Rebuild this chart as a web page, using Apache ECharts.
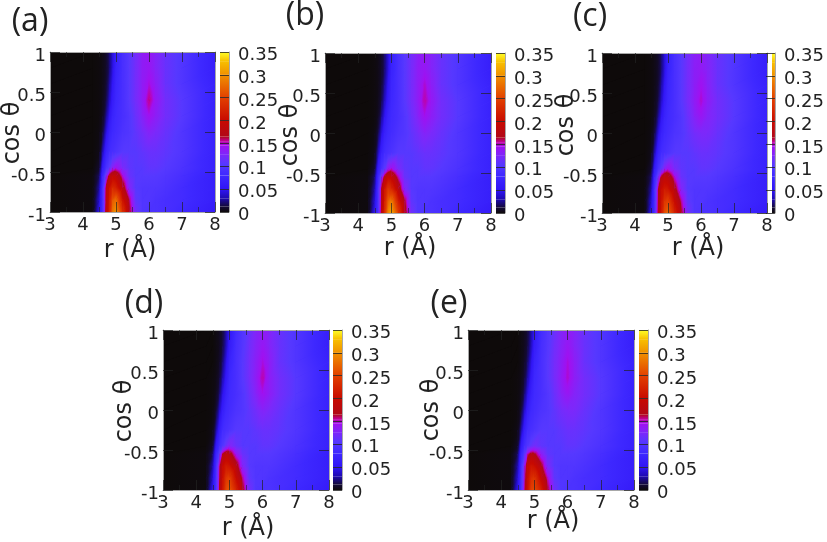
<!DOCTYPE html>
<html><head><meta charset="utf-8">
<style>html,body{margin:0;padding:0;background:#fff}#c{width:827px;height:542px}</style>
<script src="https://cdn.jsdelivr.net/npm/echarts@6/dist/echarts.min.js"></script>
</head><body><div id="c"></div>
<script>
const rValues = [3,4.3,4.5,4.6,4.7,4.8,4.9,5,5.2,5.4,5.6,5.8,6,6.2,6.5,7,8];
const cosValues = [1,.8,.6,.4,.2,0,-.25,-.45,-.55,-.7,-.85,-1];
const xTicks = {min:3,max:8,interval:1};
const yTicks = {min:-1,max:1,interval:.5};
const barTicks = {min:0,max:.35,interval:.05};
const paletteValues = [0,.012,.03,.05,.08,.105,.125,.145,.155,.165,.2,.25,.3,.33,.35];
const paletteColors = ['#0e0a0a','#140a38','#1e0ab0','#3015f5','#3e28ff','#5638ff','#7c28fa','#a010f0','#c000a0','#b00818','#c80a00','#e24000','#f09000','#f8c000','#ffff28'];

const panelA = [
[0,0,.001,.003,.008,.02,.04,.065,.09,.105,.12,.135,.14,.13,.115,.1,.065],
[0,0,.001,.003,.008,.02,.042,.07,.09,.105,.12,.135,.14,.13,.115,.1,.065],
[0,0,.001,.003,.01,.027,.052,.075,.09,.105,.12,.135,.148,.135,.115,.1,.07],
[0,0,.001,.004,.014,.035,.06,.078,.09,.105,.12,.135,.158,.14,.12,.105,.07],
[0,0,.001,.006,.024,.05,.072,.082,.09,.1,.115,.13,.145,.135,.12,.105,.07],
[0,0,.002,.012,.04,.068,.08,.085,.095,.1,.11,.12,.13,.125,.115,.1,.07],
[0,0,.004,.032,.068,.085,.09,.095,.105,.105,.105,.11,.115,.115,.11,.1,.07],
[0,0,.01,.06,.09,.108,.135,.145,.125,.11,.105,.105,.11,.11,.105,.095,.07],
[0,.001,.02,.075,.125,.178,.192,.188,.15,.115,.105,.105,.105,.105,.1,.09,.065],
[0,.001,.03,.09,.172,.205,.23,.22,.18,.13,.105,.1,.1,.1,.095,.085,.065],
[0,.001,.04,.09,.175,.215,.265,.28,.21,.162,.11,.1,.1,.095,.09,.085,.065],
[0,.001,.05,.09,.18,.22,.285,.305,.24,.172,.12,.1,.095,.095,.09,.08,.06]];
const panelB = [
[0,0,.001,.003,.008,.02,.04,.065,.09,.105,.12,.133,.138,.13,.115,.1,.065],
[0,0,.001,.003,.008,.02,.042,.07,.09,.105,.12,.135,.14,.13,.115,.1,.065],
[0,0,.001,.003,.01,.027,.052,.075,.09,.105,.12,.135,.15,.135,.115,.1,.07],
[0,0,.001,.004,.014,.035,.06,.078,.09,.105,.12,.135,.155,.14,.12,.105,.07],
[0,0,.001,.006,.024,.05,.072,.082,.09,.1,.115,.13,.145,.135,.12,.105,.07],
[0,0,.002,.014,.04,.068,.08,.085,.095,.1,.11,.12,.13,.125,.115,.1,.07],
[0,0,.004,.032,.068,.085,.09,.095,.105,.105,.105,.11,.115,.115,.11,.1,.07],
[0,0,.01,.06,.09,.108,.14,.15,.125,.11,.105,.105,.11,.11,.105,.095,.07],
[0,.001,.02,.075,.125,.178,.198,.193,.155,.115,.105,.105,.105,.105,.1,.09,.065],
[0,.001,.03,.09,.165,.21,.24,.23,.185,.13,.105,.1,.1,.1,.095,.085,.065],
[0,.001,.04,.09,.17,.22,.27,.29,.22,.167,.11,.1,.1,.095,.09,.085,.065],
[0,.001,.05,.09,.175,.23,.295,.318,.25,.178,.12,.1,.095,.095,.09,.08,.06]];
const panelC = [
[0,0,.001,.003,.008,.02,.04,.065,.09,.105,.12,.132,.136,.128,.115,.1,.065],
[0,0,.001,.003,.008,.02,.042,.07,.09,.105,.12,.133,.137,.13,.115,.1,.065],
[0,0,.001,.003,.01,.027,.052,.075,.09,.105,.12,.133,.145,.132,.115,.1,.07],
[0,0,.001,.004,.014,.035,.06,.078,.09,.105,.12,.135,.15,.135,.12,.105,.07],
[0,0,.001,.006,.024,.05,.072,.082,.09,.1,.115,.13,.14,.13,.12,.105,.07],
[0,0,.002,.014,.04,.068,.08,.085,.095,.1,.11,.12,.125,.125,.115,.1,.07],
[0,0,.004,.032,.068,.085,.09,.095,.105,.105,.105,.11,.115,.115,.11,.1,.07],
[0,0,.01,.06,.09,.108,.135,.145,.125,.11,.105,.105,.11,.11,.105,.095,.07],
[0,.001,.02,.075,.12,.173,.188,.183,.15,.115,.105,.105,.105,.105,.1,.09,.065],
[0,.001,.03,.09,.16,.2,.215,.21,.175,.13,.105,.1,.1,.1,.095,.085,.065],
[0,.001,.04,.09,.165,.205,.24,.25,.2,.157,.11,.1,.1,.095,.09,.085,.065],
[0,.001,.05,.09,.172,.21,.26,.275,.225,.17,.12,.1,.095,.095,.09,.08,.06]];
const panelD = [
[0,0,0,.002,.005,.012,.028,.052,.085,.1,.115,.128,.135,.13,.115,.1,.065],
[0,0,0,.002,.005,.014,.032,.06,.088,.102,.118,.13,.14,.13,.115,.1,.065],
[0,0,0,.002,.007,.02,.044,.07,.09,.105,.12,.133,.148,.135,.115,.1,.07],
[0,0,.001,.003,.011,.03,.055,.078,.09,.105,.12,.135,.155,.135,.12,.105,.07],
[0,0,.001,.005,.019,.045,.068,.082,.09,.1,.115,.13,.145,.135,.12,.105,.07],
[0,0,.001,.01,.034,.062,.08,.085,.095,.1,.11,.12,.13,.125,.115,.1,.07],
[0,0,.003,.027,.062,.085,.09,.095,.105,.105,.105,.11,.115,.115,.11,.1,.07],
[0,0,.008,.055,.085,.1,.118,.13,.115,.105,.105,.105,.11,.11,.105,.095,.07],
[0,.001,.018,.07,.108,.168,.184,.178,.142,.115,.105,.105,.105,.105,.1,.09,.065],
[0,.001,.03,.085,.155,.2,.215,.21,.178,.13,.105,.1,.1,.1,.095,.085,.065],
[0,.001,.04,.09,.16,.205,.24,.25,.2,.157,.11,.1,.1,.095,.09,.085,.065],
[0,.001,.05,.09,.168,.21,.255,.268,.225,.172,.12,.1,.095,.095,.09,.08,.06]];
const panelE = [
[0,0,0,.002,.005,.012,.028,.052,.085,.1,.115,.128,.135,.13,.115,.1,.065],
[0,0,0,.002,.005,.014,.032,.06,.088,.102,.118,.13,.14,.13,.115,.1,.065],
[0,0,0,.002,.007,.02,.044,.07,.09,.105,.12,.133,.148,.135,.115,.1,.07],
[0,0,.001,.003,.011,.03,.055,.078,.09,.105,.12,.135,.15,.135,.12,.105,.07],
[0,0,.001,.005,.019,.045,.068,.082,.09,.1,.115,.13,.14,.13,.12,.105,.07],
[0,0,.001,.01,.034,.062,.08,.085,.095,.1,.11,.12,.125,.125,.115,.1,.07],
[0,0,.003,.027,.062,.085,.09,.095,.105,.105,.105,.11,.115,.115,.11,.1,.07],
[0,0,.008,.055,.085,.1,.112,.12,.11,.105,.105,.105,.11,.11,.105,.095,.07],
[0,.001,.018,.07,.102,.155,.172,.168,.136,.11,.105,.105,.105,.105,.1,.09,.065],
[0,.001,.03,.085,.135,.195,.21,.205,.172,.125,.105,.1,.1,.1,.095,.085,.065],
[0,.001,.04,.09,.145,.2,.232,.24,.195,.152,.11,.1,.1,.095,.09,.085,.065],
[0,.001,.05,.09,.155,.205,.248,.258,.22,.168,.12,.1,.095,.095,.09,.08,.06]];

const panels = [
 {label:'(a)',table:panelA,plot:[50,52,165,160],bar:[220,9],lab:[30,22],xn:[130,251],yn:[13,133]},
 {label:'(b)',table:panelB,plot:[325,53,166,160],bar:[496,9],lab:[305,16],xn:[410,249],yn:[291,135]},
 {label:'(c)',table:panelC,plot:[602,53,165,160],bar:[772,9],lab:[590,17],xn:[698,249],yn:[567,125]},
 {label:'(d)',table:panelD,plot:[163,330,166,160],bar:[333,9],lab:[144,304],xn:[248,529],yn:[125,411]},
 {label:'(e)',table:panelE,plot:[468,330,166,160],bar:[639,9],lab:[449,304],xn:[553,522],yn:[432,410]}
];

const FONT='"DejaVu Sans"', TICKC='#222';
function hex(c){return [1,3,5].map(i=>parseInt(c.substr(i,2),16));}
function colorAt(v){
  if(v<=paletteValues[0])return paletteColors[0];
  for(let i=1;i<paletteValues.length;i++){
    if(v<=paletteValues[i]){
      const t=(v-paletteValues[i-1])/(paletteValues[i]-paletteValues[i-1]);
      const a=hex(paletteColors[i-1]),b=hex(paletteColors[i]);
      return 'rgb('+a.map((x,k)=>Math.round(x+(b[k]-x)*t)).join(',')+')';
    }
  }
  return paletteColors[paletteColors.length-1];
}
// shade a triangle so that its colour follows the three corner values
function triFill(p,v){
  const d=(p[1][0]-p[0][0])*(p[2][1]-p[0][1])-(p[2][0]-p[0][0])*(p[1][1]-p[0][1]);
  const dv1=v[1]-v[0],dv2=v[2]-v[0];
  const a=(dv1*(p[2][1]-p[0][1])-dv2*(p[1][1]-p[0][1]))/d;
  const b=(dv2*(p[1][0]-p[0][0])-dv1*(p[2][0]-p[0][0]))/d;
  const g2=a*a+b*b;
  const lo=Math.min(...v),hi=Math.max(...v);
  if(g2<1e-14||hi-lo<1e-6)return colorAt((v[0]+v[1]+v[2])/3);
  const s=p[v.indexOf(lo)];
  const k=(hi-lo)/g2;
  const stops=[{offset:0,color:colorAt(lo)}];
  paletteValues.forEach((pv,i)=>{if(pv>lo&&pv<hi)stops.push({offset:(pv-lo)/(hi-lo),color:paletteColors[i]});});
  stops.push({offset:1,color:colorAt(hi)});
  return new echarts.graphic.LinearGradient(s[0],s[1],s[0]+a*k,s[1]+b*k,stops,true);
}
function renderUnder(params,api){
  const A=api.coord([api.value(0),api.value(1)]),C=api.coord([api.value(2),api.value(3)]);
  const f=colorAt((api.value(4)+api.value(5)+api.value(6)+api.value(7))/4);
  return {type:'rect',shape:{x:A[0],y:C[1],width:C[0]-A[0],height:A[1]-C[1]},style:{fill:f,stroke:f,lineWidth:1},silent:true};
}
function renderCell(params,api){
  const r0=api.value(0),c0=api.value(1),r1=api.value(2),c1=api.value(3);
  const A=api.coord([r0,c0]),B=api.coord([r1,c0]),C=api.coord([r1,c1]),D=api.coord([r0,c1]);
  const va=api.value(4),vb=api.value(5),vc=api.value(6),vd=api.value(7);
  const tri=(pts,vals)=>({type:'polygon',shape:{points:pts},style:{fill:triFill(pts,vals)},silent:true});
  return {type:'group',children:[tri([A,B,C],[va,vb,vc]),tri([A,C,D],[va,vc,vd])]};
}
function renderBar(params,api){
  const v0=api.value(0),v1=api.value(1);
  const P=api.coord([0,v0]),Q=api.coord([1,v1]);
  const f=new echarts.graphic.LinearGradient(0,P[1],0,Q[1],[{offset:0,color:colorAt(v0)},{offset:1,color:colorAt(v1)}],true);
  return {type:'rect',shape:{x:P[0],y:Q[1],width:Q[0]-P[0],height:P[1]-Q[1]},style:{fill:f},silent:true};
}
function cells(table){
  const out=[];
  for(let i=0;i<cosValues.length-1;i++)for(let j=0;j<rValues.length-1;j++){
    out.push([rValues[j],cosValues[i+1],rValues[j+1],cosValues[i],table[i+1][j],table[i+1][j+1],table[i][j+1],table[i][j]]);
  }
  return out;
}
const barSegments=paletteValues.slice(1).map((v,i)=>[paletteValues[i],v]);

const grid=[],xAxis=[],yAxis=[],series=[],graphic=[];
const frame={show:true,onZero:false,lineStyle:{color:'#a8a8a8',width:1}};
const labelStyle={fontFamily:FONT,fontSize:18,color:'#222'};
panels.forEach(p=>{
  const [l,t,w,h]=p.plot;
  const g=grid.length;
  grid.push({left:l,top:t,width:w,height:h,containLabel:false});
  const xi=xAxis.length,yi=yAxis.length;
  const tick={show:true,inside:true,length:10,lineStyle:{color:TICKC,width:1,opacity:.7}};
  const minor={show:true,splitNumber:2,length:5,lineStyle:{color:TICKC,width:1,opacity:.6}};
  xAxis.push({type:'value',gridIndex:g,position:'bottom',...xTicks,z:5,axisLine:frame,axisTick:tick,minorTick:minor,splitLine:{show:false},axisLabel:{...labelStyle,margin:4}});
  xAxis.push({type:'value',gridIndex:g,position:'top',...xTicks,z:5,axisLine:frame,axisTick:tick,minorTick:minor,splitLine:{show:false},axisLabel:{show:false}});
  yAxis.push({type:'value',gridIndex:g,position:'left',...yTicks,z:5,axisLine:frame,axisTick:tick,splitLine:{show:false},axisLabel:{...labelStyle,margin:4,verticalAlign:'top',lineHeight:9}});
  yAxis.push({type:'value',gridIndex:g,position:'right',...yTicks,z:5,axisLine:frame,axisTick:tick,splitLine:{show:false},axisLabel:{show:false}});
  const data=cells(p.table);
  series.push({type:'custom',renderItem:renderUnder,xAxisIndex:xi,yAxisIndex:yi,data,clip:true,silent:true,animation:false,progressive:0,z:2,encode:{x:[0,2],y:[1,3]}});
  series.push({type:'custom',renderItem:renderCell,xAxisIndex:xi,yAxisIndex:yi,data,clip:true,silent:true,animation:false,progressive:0,z:3,encode:{x:[0,2],y:[1,3]}});
  // colour bar
  const gb=grid.length;
  grid.push({left:p.bar[0],top:t,width:p.bar[1],height:h,containLabel:false});
  const xb=xAxis.length,yb=yAxis.length;
  xAxis.push({type:'value',gridIndex:gb,min:0,max:1,show:false});
  yAxis.push({type:'value',gridIndex:gb,position:'right',...barTicks,z:5,axisLine:frame,axisTick:{show:true,inside:true,length:p.bar[1],lineStyle:{color:TICKC,width:1,opacity:.8}},splitLine:{show:false},axisLabel:{...labelStyle,margin:9,verticalAlign:'top',lineHeight:7}});
  series.push({type:'custom',renderItem:renderBar,xAxisIndex:xb,yAxisIndex:yb,data:barSegments,clip:true,silent:true,animation:false,encode:{y:[0,1]}});
  graphic.push({type:'text',x:p.lab[0],y:p.lab[1],silent:true,style:{text:p.label,font:'32px "Open Sans"',fill:'#222',textAlign:'center',textVerticalAlign:'middle'}});
  graphic.push({type:'text',x:p.xn[0],y:p.xn[1],silent:true,style:{text:'r (Å)',font:'24px '+FONT,fill:'#222',textAlign:'center',textVerticalAlign:'middle'}});
  graphic.push({type:'text',x:p.yn[0],y:p.yn[1],rotation:Math.PI/2,silent:true,style:{text:'cos θ',font:'24px '+FONT,fill:'#222',textAlign:'center',textVerticalAlign:'middle'}});
});
const chart=echarts.init(document.getElementById('c'),null,{renderer:'canvas'});
chart.setOption({animation:false,backgroundColor:'#fff',tooltip:{show:false},grid,xAxis,yAxis,series,graphic});
</script></body></html>
